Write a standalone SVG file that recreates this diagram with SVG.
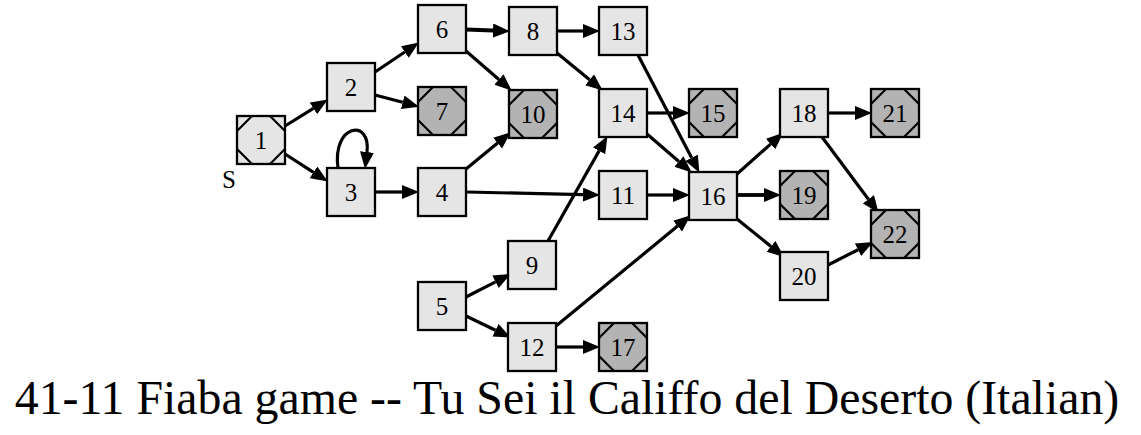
<svg xmlns="http://www.w3.org/2000/svg" xmlns:xlink="http://www.w3.org/1999/xlink" width="1141" height="435" viewBox="0 0 1141 435">
<style>
.n rect{stroke:#000;stroke-width:2.3}
.lt rect{fill:#e5e5e5}
.dk rect{fill:#b3b3b3}
.n text,.lbl{font-family:"Liberation Serif","Times New Roman",serif;font-size:25px;fill:#000;text-anchor:middle}
.e path{fill:none;stroke:#000;stroke-width:3.2;marker-end:url(#ah)}
.e path.t{stroke-width:3.8}
.title{font-family:"Liberation Serif","Times New Roman",serif;font-size:47.8px;fill:#000;text-anchor:middle}
</style>
<defs>
<marker id="ah" markerUnits="userSpaceOnUse" markerWidth="19" markerHeight="15" refX="0" refY="7" orient="auto">
<path d="M0,0 L17,7 L0,14 Z" fill="#000"/>
</marker>
<path id="cr" d="M0,15 L15,0 M33,0 L48,15 M48,33 L33,48 M15,48 L0,33" fill="none" stroke="#000" stroke-width="2.2"/>
</defs>
<rect width="1141" height="435" fill="#fff"/>
<g id="edges" class="e">
<path d="M285,126 L313.4,108.4"/>
<path d="M285,154 L313.5,172.3"/>
<path d="M338,168 C332,124 371,118 367,152"/>
<path d="M375,192 L402,192"/>
<path d="M375,72 L404.8,52"/>
<path d="M375,95 L402.7,102.3"/>
<path class="t" d="M466,29.5 L493,30.5"/>
<path d="M466,51 L498.9,79.5"/>
<path d="M466,169 L497.6,143.1"/>
<path d="M466,192 L583,194.6"/>
<path d="M557,31 L583,31"/>
<path d="M557,53 L589.6,79.8"/>
<path d="M638,55 L691.6,157.8"/>
<path d="M647,113 L673,113"/>
<path d="M647,134 L678.9,161.5"/>
<path d="M647,195 L673,195"/>
<path d="M548,241 L599.1,150.9"/>
<path d="M466,297 L495.5,281.8"/>
<path d="M466,316 L495.5,330.2"/>
<path d="M556,326 L677.6,226.1"/>
<path d="M556,347 L583,347"/>
<path d="M737,174 L770.6,144.1"/>
<path class="t" d="M737,195 L764,195"/>
<path d="M737,219 L771,246.4"/>
<path d="M828,113 L855,113"/>
<path d="M822,137 L868.4,199.2"/>
<path d="M828,265 L858,249.7"/>
</g>
<g id="n1" class="n lt"><rect x="237" y="116" width="48" height="48"/><use xlink:href="#cr" x="237" y="116"/><text x="261" y="148.5">1</text></g>
<text class="lbl" x="229" y="188">S</text>
<g id="n2" class="n lt"><rect x="327" y="63" width="48" height="48"/><text x="351" y="95.5">2</text></g>
<g id="n3" class="n lt"><rect x="327" y="168" width="48" height="48"/><text x="351" y="200.5">3</text></g>
<g id="n4" class="n lt"><rect x="418" y="168" width="48" height="48"/><text x="442" y="200.5">4</text></g>
<g id="n5" class="n lt"><rect x="418" y="282" width="48" height="48"/><text x="442" y="314.5">5</text></g>
<g id="n6" class="n lt"><rect x="418" y="5" width="48" height="48"/><text x="442" y="37.5">6</text></g>
<g id="n7" class="n dk"><rect x="418" y="87" width="48" height="48"/><use xlink:href="#cr" x="418" y="87"/><text x="442" y="119.5">7</text></g>
<g id="n8" class="n lt"><rect x="509" y="7" width="48" height="48"/><text x="533" y="39.5">8</text></g>
<g id="n9" class="n lt"><rect x="508" y="241" width="48" height="48"/><text x="532" y="273.5">9</text></g>
<g id="n10" class="n dk"><rect x="509" y="90" width="48" height="48"/><use xlink:href="#cr" x="509" y="90"/><text x="533" y="122.5">10</text></g>
<g id="n11" class="n lt"><rect x="599" y="171" width="48" height="48"/><text x="623" y="203.5">11</text></g>
<g id="n12" class="n lt"><rect x="508" y="323" width="48" height="48"/><text x="532" y="355.5">12</text></g>
<g id="n13" class="n lt"><rect x="599" y="7" width="48" height="48"/><text x="623" y="39.5">13</text></g>
<g id="n14" class="n lt"><rect x="599" y="89" width="48" height="48"/><text x="623" y="121.5">14</text></g>
<g id="n15" class="n dk"><rect x="689" y="89" width="48" height="48"/><use xlink:href="#cr" x="689" y="89"/><text x="713" y="121.5">15</text></g>
<g id="n16" class="n lt"><rect x="689" y="172" width="48" height="48"/><text x="713" y="204.5">16</text></g>
<g id="n17" class="n dk"><rect x="599" y="323" width="48" height="48"/><use xlink:href="#cr" x="599" y="323"/><text x="623" y="355.5">17</text></g>
<g id="n18" class="n lt"><rect x="780" y="89" width="48" height="48"/><text x="804" y="121.5">18</text></g>
<g id="n19" class="n dk"><rect x="780" y="171" width="48" height="48"/><use xlink:href="#cr" x="780" y="171"/><text x="804" y="203.5">19</text></g>
<g id="n20" class="n lt"><rect x="780" y="252" width="48" height="48"/><text x="804" y="284.5">20</text></g>
<g id="n21" class="n dk"><rect x="871" y="89" width="48" height="48"/><use xlink:href="#cr" x="871" y="89"/><text x="895" y="121.5">21</text></g>
<g id="n22" class="n dk"><rect x="871" y="210" width="48" height="48"/><use xlink:href="#cr" x="871" y="210"/><text x="895" y="242.5">22</text></g>
<text class="title" x="567" y="414">41-11 Fiaba game -- Tu Sei il Califfo del Deserto (Italian)</text>
</svg>
